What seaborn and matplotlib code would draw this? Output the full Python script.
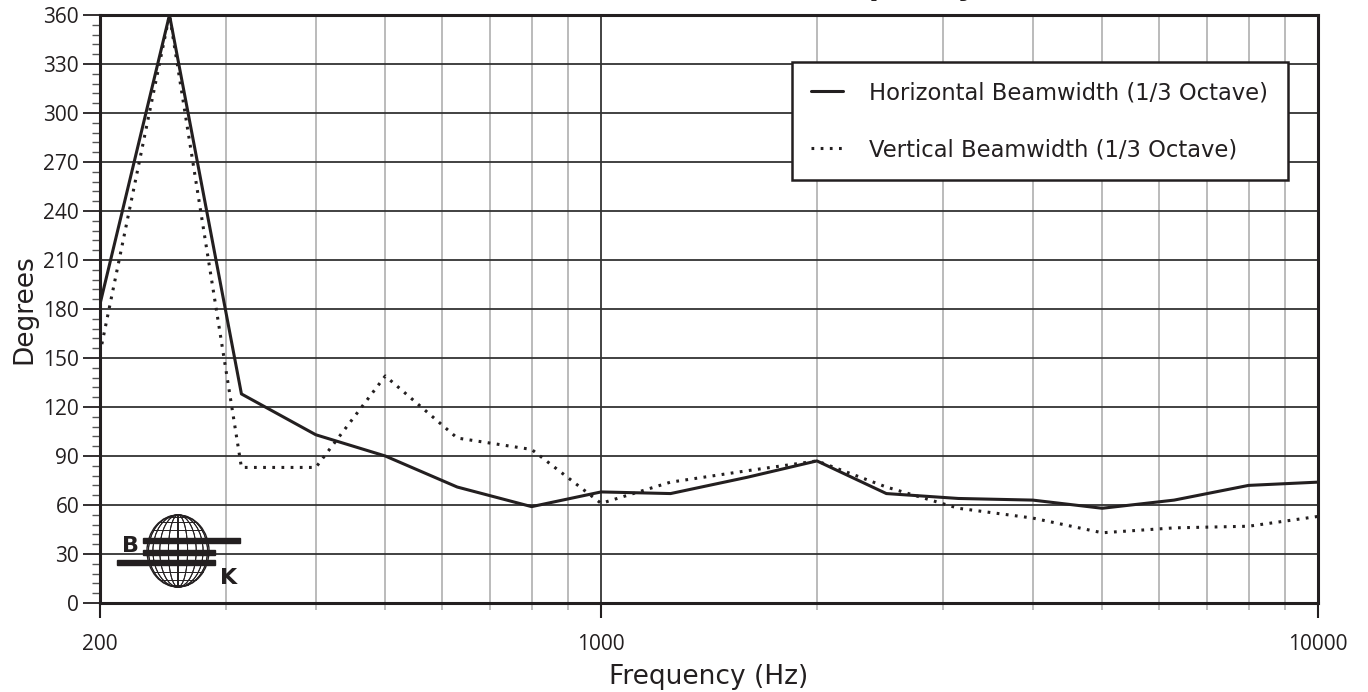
import numpy as np
import pandas as pd
import matplotlib
matplotlib.use("Agg")
import matplotlib.pyplot as plt
import seaborn as sns
from matplotlib import font_manager
from matplotlib.patches import Ellipse, Rectangle
from matplotlib.ticker import FixedLocator, NullFormatter, MultipleLocator, FixedFormatter

# ---- data ----
freqs = [200, 250, 315, 400, 500, 630, 800, 1000, 1250, 1600, 2000,
         2500, 3150, 4000, 5000, 6300, 8000, 10000]
horizontal = [183, 360, 128, 103, 90, 71, 59, 68, 67, 77, 87,
              67, 64, 63, 58, 63, 72, 74]
vertical = [153, 360, 83, 83, 139, 101, 94, 61, 74, 81, 87,
            71, 58, 52, 43, 46, 47, 53]
series_names = ["Horizontal Beamwidth (1/3 Octave)", "Vertical Beamwidth (1/3 Octave)"]
x_tick_values = [200, 1000, 10000]
x_tick_labels = ["200", "1000", "10000"]
title_text = "Beamwidth vs. Frequency"

sns.set_theme(style="white")
available = {f.name for f in font_manager.fontManager.ttflist}
narrow = "Liberation Sans Narrow" if "Liberation Sans Narrow" in available else "DejaVu Sans"
plt.rcParams["font.family"] = ["Open Sans", "DejaVu Sans"]

INK = "#231f20"

fig = plt.figure(figsize=(13.68, 6.92), dpi=100)
ax = fig.add_axes([100 / 1368, 1 - 603 / 692, 1218 / 1368, 588 / 692])
ax.set_xscale("log")

df = pd.DataFrame({
    "freq": freqs * 2,
    "deg": horizontal + vertical,
    "series": [series_names[0]] * len(freqs) + [series_names[1]] * len(freqs),
})
sns.lineplot(data=df[df.series == series_names[0]], x="freq", y="deg", ax=ax,
             color=INK, lw=2.2, label=series_names[0])
sns.lineplot(data=df[df.series == series_names[1]], x="freq", y="deg", ax=ax,
             color=INK, lw=2.2, linestyle=(0, (0.9, 2.1)), label=series_names[1])

ax.set_xlim(200, 10000)
ax.set_ylim(0, 360)

# grid
minor_x = [300, 400, 500, 600, 700, 800, 900, 2000, 3000, 4000, 5000, 6000, 7000, 8000, 9000]
for v in minor_x:
    ax.axvline(v, color="#b5b5b5", lw=1.3, zorder=0.5)
ax.axvline(1000, color="#222222", lw=1.2, zorder=0.6)
for yv in range(30, 360, 30):
    ax.axhline(yv, color="#333333", lw=1.3, zorder=0.6)

ax.xaxis.set_major_locator(FixedLocator(x_tick_values))
ax.xaxis.set_major_formatter(FixedFormatter(x_tick_labels))
ax.xaxis.set_minor_locator(FixedLocator(minor_x))
ax.xaxis.set_minor_formatter(NullFormatter())
ax.yaxis.set_major_locator(MultipleLocator(30))
ax.yaxis.set_minor_locator(MultipleLocator(6))

ax.tick_params(axis="x", which="major", direction="out", length=11, width=1.5,
               color=INK, labelsize=15, pad=11, bottom=True)
ax.tick_params(axis="x", which="minor", direction="out", length=5, width=1.2,
               color="#b5b5b5", bottom=True)
ax.tick_params(axis="y", which="major", direction="out", length=12, width=1.3,
               color=INK, labelsize=15, pad=3, left=True)
ax.tick_params(axis="y", which="minor", direction="out", length=6, width=1.0,
               color="#555555", left=True)
for lab in ax.get_xticklabels() + ax.get_yticklabels():
    lab.set_color(INK)

for s in ax.spines.values():
    s.set_visible(True)
    s.set_color(INK)
    s.set_linewidth(2.2)

ax.set_xlabel("Frequency (Hz)", family=[narrow, "DejaVu Sans"], fontsize=19,
              color=INK, labelpad=7)
ax.set_ylabel("Degrees", family=[narrow, "DejaVu Sans"], fontsize=19, color=INK, labelpad=4)

leg = ax.legend(loc="upper right", bbox_to_anchor=(0.975, 0.92), borderaxespad=0,
                frameon=True, fancybox=False, shadow=False,
                prop={"family": [narrow, "DejaVu Sans"], "size": 16.3},
                handlelength=1.42, handletextpad=1.15, labelspacing=1.49,
                borderpad=0.85)
leg.get_frame().set_edgecolor(INK)
leg.get_frame().set_linewidth(1.8)
leg.get_frame().set_facecolor("white")
leg.get_frame().set_alpha(1)
for t in leg.get_texts():
    t.set_color(INK)

# title (only its descenders fall inside the canvas, as in the reference)
fig.text(977 / 1368, 1.0 + 5 / 692, title_text, ha="right", va="baseline",
         fontsize=21, fontweight="bold", color=INK, family=["DejaVu Sans"])

# logo (decoration) in its own small axes, in pixel units
lax = fig.add_axes([112 / 1368, 1 - 592 / 692, 132 / 1368, 82 / 692])
lax.set_xlim(112, 244)
lax.set_ylim(592, 510)
lax.axis("off")
cx, cy, rw, rh = 178, 551, 31, 36
lax.add_patch(Ellipse((cx, cy), 2 * rw, 2 * rh, fill=False, ec=INK, lw=1.0))
for k in np.linspace(-1, 1, 11)[1:-1]:
    lax.add_patch(Ellipse((cx, cy), 2 * rw * abs(np.sin(k * np.pi / 2)) + 0.01, 2 * rh,
                          fill=False, ec=INK, lw=0.7))
for lat in np.linspace(-1, 1, 11)[1:-1]:
    yy = cy + rh * np.sin(lat * np.pi / 2)
    half = rw * np.cos(lat * np.pi / 2)
    lax.plot([cx - half, cx + half], [yy, yy], color=INK, lw=0.7)
lax.add_patch(Rectangle((143, 537.5), 97, 5, color=INK))
lax.add_patch(Rectangle((143, 549.5), 72, 5, color=INK))
lax.add_patch(Rectangle((117, 559.5), 98, 5, color=INK))
lax.text(130, 546, "B", ha="center", va="center", fontsize=16, fontweight="bold",
         color=INK, family=["DejaVu Sans"])
lax.text(229, 578, "K", ha="center", va="center", fontsize=16, fontweight="bold",
         color=INK, family=["DejaVu Sans"])

fig.savefig("out.png", dpi=100)
